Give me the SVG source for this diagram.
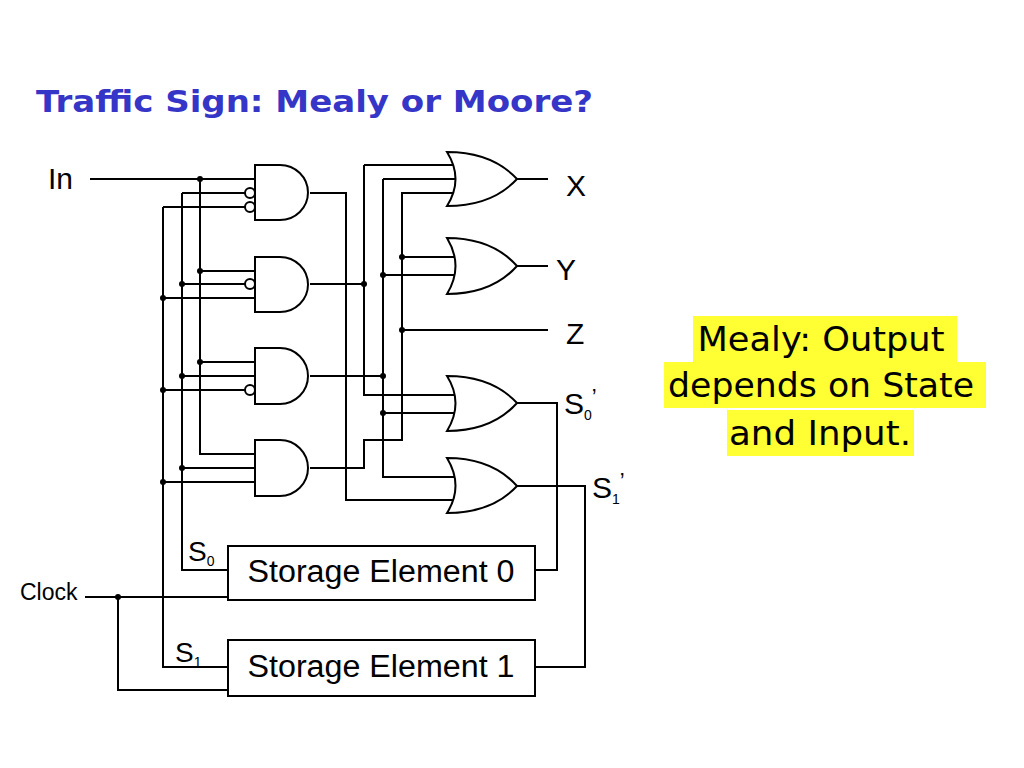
<svg xmlns="http://www.w3.org/2000/svg" width="1024" height="768" viewBox="0 0 1024 768">
<style>
.w{fill:none;stroke:#000;stroke-width:2}
.g{fill:#fff;stroke:#000;stroke-width:2}
.d{fill:#000}
.t{font-family:"Liberation Sans",Arial,sans-serif;fill:#000}
.m{font-family:"DejaVu Sans",Verdana,sans-serif;font-size:34px;fill:#000;text-anchor:middle}
</style>
<rect width="1024" height="768" fill="#fff"/>
<text x="36" y="112" font-family="DejaVu Sans,Verdana,sans-serif" font-weight="bold" font-size="31" fill="#3535c8" textLength="557" lengthAdjust="spacingAndGlyphs">Traffic Sign: Mealy or Moore?</text>
<g id="connectors">
<path class="w" d="M90,179H255M200,179V454H255M182,193H245M182,193V570H228M163,207H245M163,207V667H228"/>
<path class="w" d="M200,271H255M182,284H245M163,298H255M200,362H255M182,376H255M163,390H245M182,468H255M163,482H255"/>
<path class="w" d="M310,193H346V500H455M310,284H364M364,165H455M364,165V395H455M310,376H383M383,179H457M383,179V477H455M383,275H457M383,413H457"/>
<path class="w" d="M310,468H364V440H402V193H457M402,257H457M402,330H548"/>
<path class="w" d="M517,179H548M517,266H548M517,403H557V570H535M517,486H585V667H535"/>
<path class="w" d="M85,597H228M118,597V690H228"/>
</g>
<g class="d">
<circle cx="200" cy="179" r="3"/><circle cx="200" cy="271" r="3"/><circle cx="182" cy="284" r="3"/><circle cx="163" cy="298" r="3"/>
<circle cx="200" cy="362" r="3"/><circle cx="182" cy="376" r="3"/><circle cx="163" cy="390" r="3"/><circle cx="182" cy="468" r="3"/><circle cx="163" cy="482" r="3"/>
<circle cx="364" cy="284" r="3"/><circle cx="383" cy="376" r="3"/><circle cx="383" cy="275" r="3"/><circle cx="383" cy="413" r="3"/>
<circle cx="402" cy="257" r="3"/><circle cx="402" cy="330" r="3"/><circle cx="118" cy="597" r="3"/>
</g>
<g id="and1"><path class="g" d="M255,165H280A28,27.5 0 0 1 280,220H255Z"/><circle class="g" cx="250" cy="193" r="5"/><circle class="g" cx="250" cy="207" r="5"/></g>
<g id="and2"><path class="g" d="M255,257H280A28,27.5 0 0 1 280,312H255Z"/><circle class="g" cx="250" cy="284" r="5"/></g>
<g id="and3"><path class="g" d="M255,348H280A28,28 0 0 1 280,404H255Z"/><circle class="g" cx="250" cy="390" r="5"/></g>
<g id="and4"><path class="g" d="M255,440H280A28,28 0 0 1 280,496H255Z"/></g>
<g id="orX"><path class="g" d="M447,152Q492,152 517,179Q492,206 447,206Q464,179 447,152Z"/></g>
<g id="orY"><path class="g" d="M447,238Q492,238 517,266Q492,294 447,294Q464,266 447,238Z"/></g>
<g id="orS0"><path class="g" d="M447,376Q492,376 517,403Q492,431 447,431Q464,403 447,376Z"/></g>
<g id="orS1"><path class="g" d="M447,458Q492,458 517,486Q492,513 447,513Q464,486 447,458Z"/></g>
<g id="se0"><rect class="g" x="228" y="546" width="307" height="54"/><text class="t" x="381" y="582" font-size="31" text-anchor="middle" textLength="267" lengthAdjust="spacingAndGlyphs">Storage Element 0</text></g>
<g id="se1"><rect class="g" x="228" y="640" width="307" height="56"/><text class="t" x="381" y="677" font-size="31" text-anchor="middle" textLength="267" lengthAdjust="spacingAndGlyphs">Storage Element 1</text></g>
<g id="labels" class="t" font-size="30">
<text x="48" y="189">In</text>
<text x="566" y="196">X</text>
<text x="556" y="280">Y</text>
<text x="566" y="344">Z</text>
<text x="564" y="414">S<tspan font-size="14" dy="6">0</tspan><tspan font-size="22" dy="-16">’</tspan></text>
<text x="592" y="498">S<tspan font-size="14" dy="6">1</tspan><tspan font-size="22" dy="-16">’</tspan></text>
<text x="188" y="561" font-size="28">S<tspan font-size="14" dy="5">0</tspan></text>
<text x="175" y="662" font-size="28">S<tspan font-size="14" dy="5">1</tspan></text>
<text x="20" y="600" font-size="23">Clock</text>
</g>
<g id="note">
<rect x="693" y="316" width="264" height="46" fill="#ffff33"/>
<rect x="664" y="362" width="322" height="46" fill="#ffff33"/>
<rect x="727" y="410" width="187" height="46" fill="#ffff33"/>
<text class="m" x="821" y="351" textLength="247" lengthAdjust="spacingAndGlyphs">Mealy: Output</text>
<text class="m" x="821" y="397" textLength="306" lengthAdjust="spacingAndGlyphs">depends on State</text>
<text class="m" x="820" y="445" textLength="182" lengthAdjust="spacingAndGlyphs">and Input.</text>
</g>
</svg>
